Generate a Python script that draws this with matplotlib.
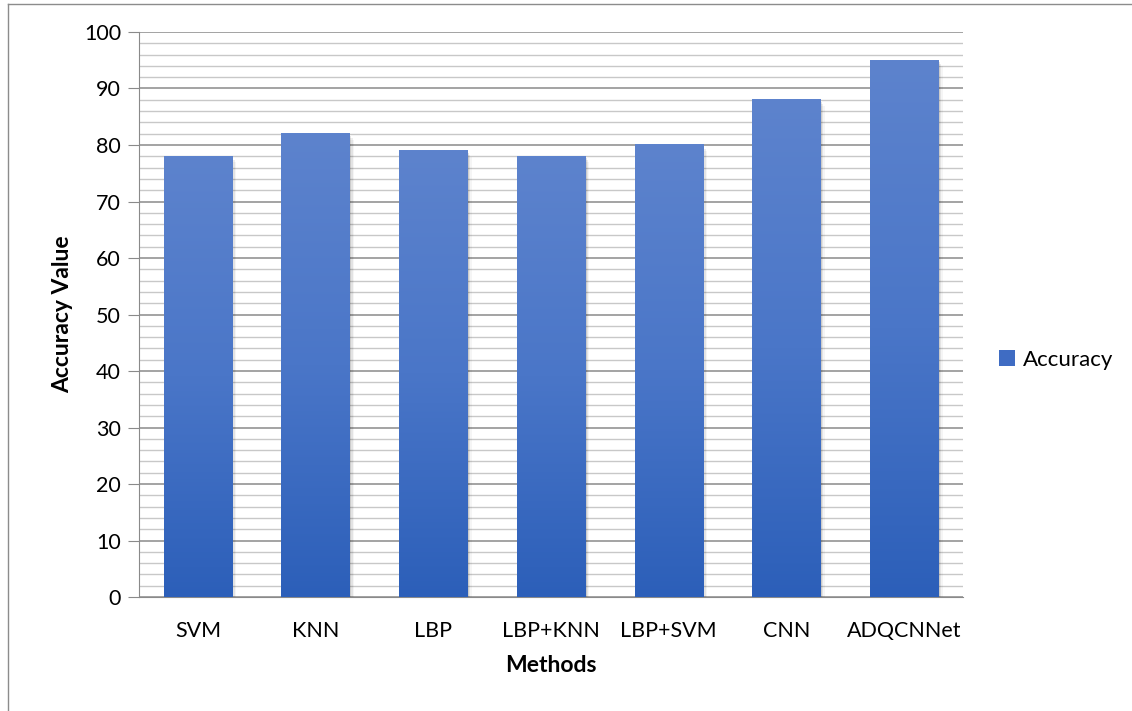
import numpy as np
import matplotlib.pyplot as plt
from matplotlib.patches import Rectangle
from matplotlib.colors import LinearSegmentedColormap

# Accuracy per method
methods = ["SVM", "KNN", "LBP", "LBP+KNN", "LBP+SVM", "CNN", "ADQCNNet"]
accuracy = [78, 82, 79, 78, 80, 88, 95]

plt.rcParams['font.family'] = ['Lato', 'DejaVu Sans']

fig = plt.figure(figsize=(11.32, 7.11), dpi=100)
ax = fig.add_axes([0.1228, 0.1603, 0.7279, 0.7947])

# outer frame lines (left and top)
fig.add_artist(plt.Line2D([0.0075, 0.0075], [0, 0.9945], color="#8c8c8c", lw=1.0))
fig.add_artist(plt.Line2D([0.0075, 1.0], [0.9945, 0.9945], color="#8c8c8c", lw=1.0))

x = np.arange(len(methods))
bars = ax.bar(x, accuracy, width=0.58, color="none", zorder=3)

grad = LinearSegmentedColormap.from_list("blue", ["#2c5fb9", "#4a76c8", "#5d83cd"])
gradient = np.linspace(0, 1, 256).reshape(-1, 1)

for b in bars:
    x0, w, h = b.get_x(), b.get_width(), b.get_height()
    # soft shadow to the right / below
    for i, a in enumerate([0.10, 0.07, 0.04]):
        off = 0.012 * (i + 1)
        ax.add_patch(Rectangle((x0 + off, -0.35 * (i + 1)), w, h,
                               facecolor="black", alpha=a, lw=0, zorder=2))
    ax.imshow(gradient, cmap=grad, origin="lower", aspect="auto",
              extent=[x0, x0 + w, 0, h], zorder=3, interpolation="bilinear")

ax.set_xlim(-0.5, len(methods) - 0.5)
ax.set_ylim(0, 100)
ax.set_yticks(np.arange(0, 101, 10))
ax.set_yticks(np.arange(0, 101, 2), minor=True)
ax.grid(axis="y", which="major", color="#8a8a8a", lw=1.1, zorder=0)
ax.grid(axis="y", which="minor", color="#c8c8c8", lw=1.0, zorder=0)
ax.set_axisbelow(True)

ax.set_xticks(x)
ax.set_xticklabels(methods)
ax.tick_params(axis="x", length=0, pad=17, labelsize=15.5)
ax.tick_params(axis="y", which="major", length=8, color="#8a8a8a", labelsize=15.5, pad=5)
ax.tick_params(axis="y", which="minor", length=0)

for s in ["top", "right"]:
    ax.spines[s].set_visible(False)
ax.spines["left"].set_color("#8a8a8a")
ax.spines["bottom"].set_color("#8a8a8a")

ax.set_ylabel("Accuracy Value", fontsize=16.5, fontweight="bold", labelpad=8)
ax.set_xlabel("Methods", fontsize=16.5, fontweight="bold", labelpad=10)

legend_handle = Rectangle((0, 0), 1, 1, facecolor="#3f6cc3")
ax.legend([legend_handle], ["Accuracy"], loc="center left",
          bbox_to_anchor=(1.02, 0.42), frameon=False, fontsize=16,
          handlelength=0.7, handleheight=0.7, handletextpad=0.35)

fig.savefig("out.png", dpi=100)
